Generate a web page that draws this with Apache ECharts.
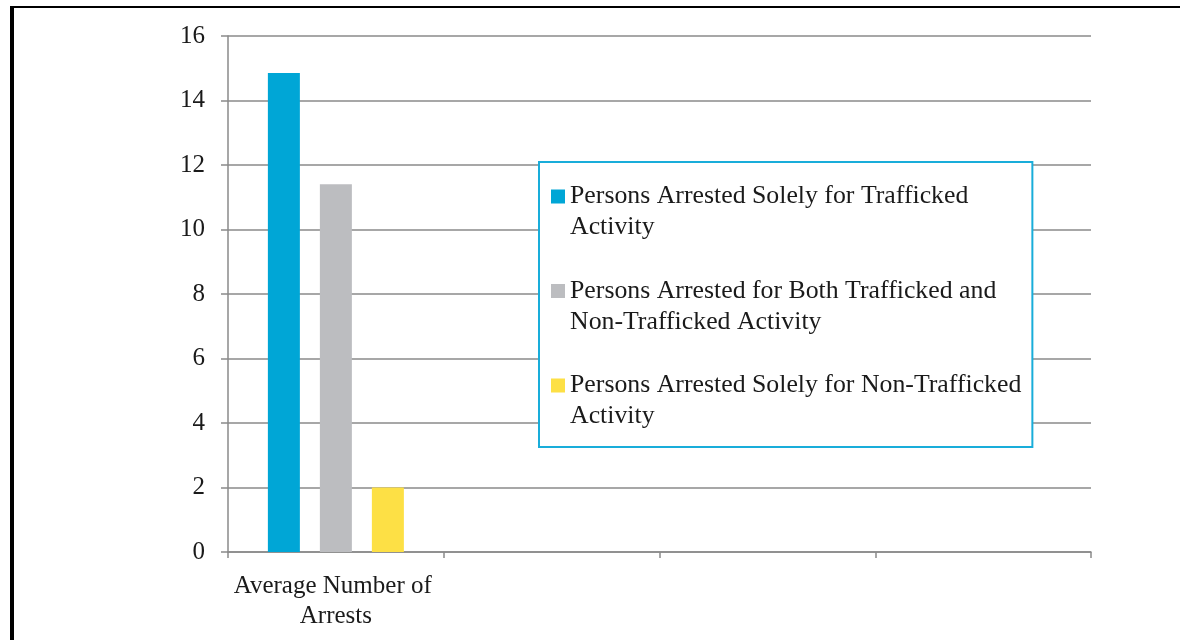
<!DOCTYPE html>
<html><head><meta charset="utf-8">
<script src="https://cdn.jsdelivr.net/npm/echarts@6/dist/echarts.min.js"></script>
<style>html,body{margin:0;padding:0;background:#fff}#c{width:1180px;height:640px}</style>
</head><body><div id="c"></div>
<script>
// ---- data ----
const categories = ['Average Number of Arrests', ' ', '  ', '   '];
const seriesNames = [
  'Persons Arrested Solely for Trafficked\nActivity',
  'Persons Arrested for Both Trafficked and\nNon-Trafficked Activity',
  'Persons Arrested Solely for Non-Trafficked\nActivity'
];
const solelyTrafficked = [14.85];
const bothTraffickedAndNon = [11.4];
const solelyNonTrafficked = [2.0];
const yMin = 0, yMax = 16, yInterval = 2;

const colors = ['#00A6D6', '#BCBDC0', '#FDE045'];
const FONT = '"Liberation Serif", "DejaVu Serif", serif';
const TXT = '#1a1a1a';

const chart = echarts.init(document.getElementById('c'), null, {renderer: 'canvas'});
const seriesValues = [solelyTrafficked, bothTraffickedAndNon, solelyNonTrafficked];

chart.setOption({
  animation: false,
  backgroundColor: '#fff',
  color: colors,
  textStyle: {fontFamily: FONT},
  graphic: [
    {type: 'rect', shape: {x: 10, y: 6, width: 1170, height: 2}, style: {fill: '#000'}},
    {type: 'rect', shape: {x: 10, y: 6, width: 4, height: 634}, style: {fill: '#000'}}
  ],
  grid: {left: 228, right: 89, top: 36, bottom: 88, containLabel: false},
  legend: {
    orient: 'vertical',
    left: 539, top: 162,
    padding: [19, 11, 15, 12],
    itemGap: 32.5,
    itemWidth: 14, itemHeight: 62,
    icon: 'path://M0,0L0.001,0L0.001,0.001Z M0,62L0.001,62L0.001,61.999Z M0,8.5H14V22.5H0Z',
    backgroundColor: '#fff',
    borderColor: '#19ADDA',
    borderWidth: 2,
    borderRadius: 0,
    selectedMode: false,
    textStyle: {fontFamily: FONT, fontSize: 25.8, lineHeight: 31, color: TXT},
    data: seriesNames
  },
  xAxis: {
    type: 'category',
    data: categories,
    axisLine: {lineStyle: {color: '#8a8a8a', width: 1.5}},
    axisTick: {show: true, length: 6, lineStyle: {color: '#8a8a8a', width: 1.5}},
    axisLabel: {
      interval: 0, margin: 19, color: TXT, fontFamily: FONT, fontSize: 25, lineHeight: 30,
      width: 216, overflow: 'break'
    },
    splitLine: {show: false}
  },
  yAxis: {
    type: 'value',
    min: yMin, max: yMax, interval: yInterval,
    axisLine: {show: true, lineStyle: {color: '#8a8a8a', width: 1.5}},
    axisTick: {show: true, length: 7, lineStyle: {color: '#8a8a8a', width: 1.5}},
    axisLabel: {margin: 23, color: TXT, fontFamily: FONT, fontSize: 25},
    splitLine: {show: true, lineStyle: {color: '#8a8a8a', width: 1.5}}
  },
  series: seriesNames.map((name, i) => ({
    name: name,
    type: 'bar',
    data: seriesValues[i],
    barWidth: 32,
    barGap: '62.5%',
    itemStyle: {color: colors[i]}
  }))
});
</script>
</body></html>
